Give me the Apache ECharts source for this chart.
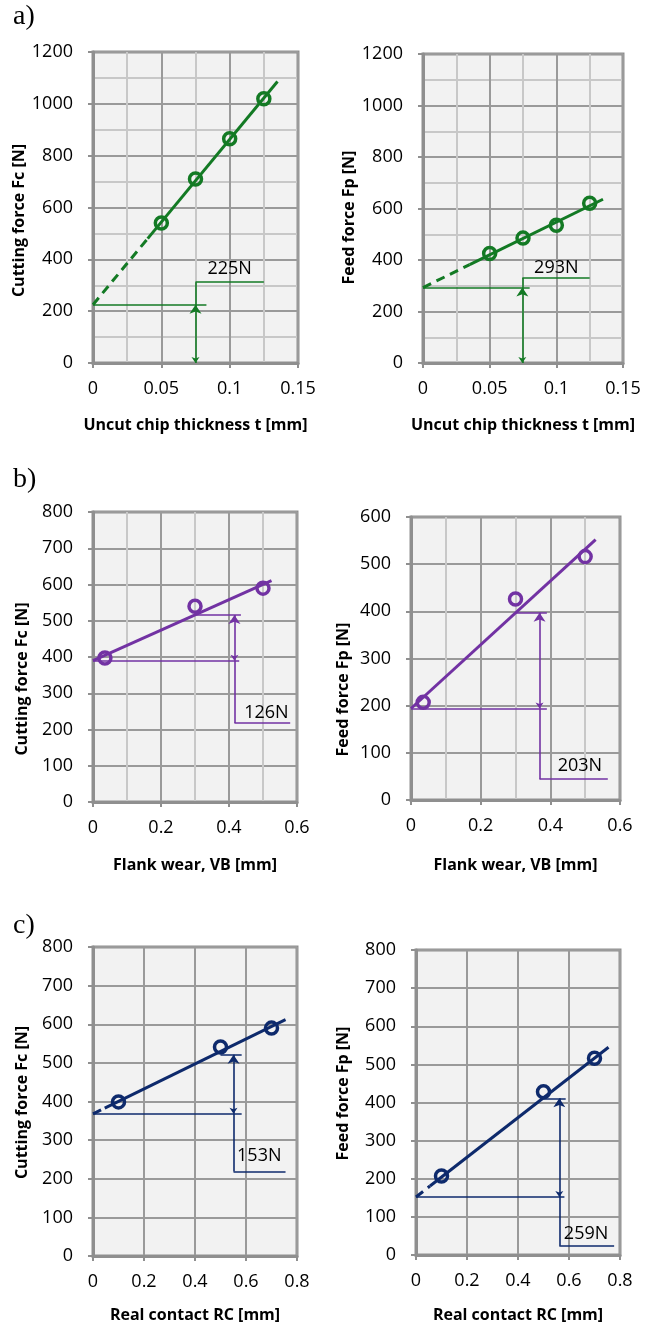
<!DOCTYPE html>
<html>
<head>
<meta charset="utf-8">
<script src="https://cdn.jsdelivr.net/npm/echarts@6/dist/echarts.min.js"></script>
<style>
  html, body { margin: 0; padding: 0; background: #ffffff; }
  #chart { width: 657px; height: 1326px; }
</style>
</head>
<body>
<div id="chart"></div>
<script>
// Measured forces
const thickness   = [0.05, 0.075, 0.1, 0.125];
const fcThickness = [540, 710, 865, 1020];
const fpThickness = [425, 485, 535, 620];
const flankWear   = [0.035, 0.3, 0.5];
const fcFlank     = [397, 540, 590];
const fpFlank     = [207, 426, 516];
const realContact = [0.1, 0.5, 0.7];
const fcContact   = [399, 541, 590];
const fpContact   = [207, 428, 516];

// Linear trend lines: start, end of extrapolated (dashed) part, end of fitted part
const trendFcThickness = [[0, 225], [0.04, 480], [0.135, 1086]];
const trendFpThickness = [[0, 293], [0.035, 382], [0.135, 636]];
const trendFcFlank     = [[0, 390], [0, 390], [0.525, 611]];
const trendFpFlank     = [[0, 194], [0, 194], [0.53, 552]];
const trendFcContact   = [[0, 368], [0.046, 383], [0.755, 612]];
const trendFpContact   = [[0, 152], [0.055, 181], [0.755, 545]];

// Force values stated by the dimension arrows [N] and the level each arrow starts from
const forceSteps = [225, 293, 126, 203, 153, 259];
const stepBase   = [0, 0, 390, 194, 368, 152];

// Axis tick labels
const thicknessTicks = [0, 0.05, 0.1, 0.15];
const wearTicks      = [0, 0.2, 0.4, 0.6];
const contactTicks   = [0, 0.2, 0.4, 0.6, 0.8];
const force1200Ticks = [0, 200, 400, 600, 800, 1000, 1200];
const force800Ticks  = [0, 100, 200, 300, 400, 500, 600, 700, 800];
const force600Ticks  = [0, 100, 200, 300, 400, 500, 600];

const GREEN  = '#137a24';
const PURPLE = '#7232a3';
const NAVY   = '#0e2a6c';
const FRAME  = '#8f8f8f';
const FONT   = '"Open Sans", "DejaVu Sans", sans-serif';

// Layout and dimension-line placement for each panel
const panels = [
  { grid: { left: 93, top: 52, width: 205, height: 311 },
    xTicks: thicknessTicks, yTicks: force1200Ticks, xMinor: 2, yMinor: 2,
    x: thickness, y: fcThickness, trend: trendFcThickness, color: GREEN,
    xName: 'Uncut chip thickness t [mm]', yName: 'Cutting force Fc [N]',
    xGap: 54, yGap: 60, yShift: 13,
    arrowX: 0.075, lowerEnd: 0, upperStart: 0, upperEnd: 0.083,
    leaderY: 312, leaderEnd: 0.125, labelAt: [0.1, 363] },
  { grid: { left: 423, top: 54, width: 200, height: 309 },
    xTicks: thicknessTicks, yTicks: force1200Ticks, xMinor: 2, yMinor: 2,
    x: thickness, y: fpThickness, trend: trendFpThickness, color: GREEN,
    xName: 'Uncut chip thickness t [mm]', yName: 'Feed force Fp [N]',
    xGap: 54, yGap: 65, yShift: 9,
    arrowX: 0.0745, lowerEnd: 0, upperStart: 0, upperEnd: 0.08,
    leaderY: 330, leaderEnd: 0.125, labelAt: [0.1, 369] },
  { grid: { left: 93, top: 512, width: 204, height: 290 },
    xTicks: wearTicks, yTicks: force800Ticks, xMinor: 2, yMinor: 0,
    x: flankWear, y: fcFlank, trend: trendFcFlank, color: PURPLE,
    xName: 'Flank wear, VB [mm]', yName: 'Cutting force Fc [N]',
    xGap: 55, yGap: 63, yShift: 22,
    arrowX: 0.416, lowerEnd: 0.43, upperStart: 0.3, upperEnd: 0.435,
    leaderY: 218, leaderEnd: 0.58, labelAt: [0.51, 246] },
  { grid: { left: 411, top: 517, width: 209, height: 283 },
    xTicks: wearTicks, yTicks: force600Ticks, xMinor: 2, yMinor: 0,
    x: flankWear, y: fpFlank, trend: trendFpFlank, color: PURPLE,
    xName: 'Flank wear, VB [mm]', yName: 'Feed force Fp [N]',
    xGap: 57, yGap: 60, yShift: 31,
    arrowX: 0.369, lowerEnd: 0.39, upperStart: 0.3, upperEnd: 0.39,
    leaderY: 44, leaderEnd: 0.565, labelAt: [0.485, 72] },
  { grid: { left: 93, top: 947, width: 204, height: 309 },
    xTicks: contactTicks, yTicks: force800Ticks, xMinor: 0, yMinor: 0,
    x: realContact, y: fcContact, trend: trendFcContact, color: NAVY,
    xName: 'Real contact RC [mm]', yName: 'Cutting force Fc [N]',
    xGap: 51, yGap: 63, yShift: 1,
    arrowX: 0.551, lowerEnd: 0.583, upperStart: 0.5, upperEnd: 0.583,
    leaderY: 219, leaderEnd: 0.755, labelAt: [0.652, 258] },
  { grid: { left: 416, top: 950, width: 204, height: 305 },
    xTicks: contactTicks, yTicks: force800Ticks, xMinor: 0, yMinor: 0,
    x: realContact, y: fpContact, trend: trendFpContact, color: NAVY,
    xName: 'Real contact RC [mm]', yName: 'Feed force Fp [N]',
    xGap: 52, yGap: 65, yShift: -9,
    arrowX: 0.562, lowerEnd: 0.582, upperStart: 0.5, upperEnd: 0.587,
    leaderY: 24, leaderEnd: 0.777, labelAt: [0.667, 55] }
];

function axisCommon(ticks, minor) {
  return {
    min: ticks[0],
    max: ticks[ticks.length - 1],
    interval: ticks[1] - ticks[0],
    axisLine: { show: true, onZero: false, lineStyle: { color: FRAME, width: 3 } },
    axisTick: { show: true, inside: false, length: 5, lineStyle: { color: FRAME, width: 2 } },
    axisLabel: {
      color: '#000', fontSize: 18, fontFamily: FONT,
      formatter: (v) => String(+v.toFixed(4))
    },
    splitLine: { show: true, lineStyle: { color: '#9a9a9a', width: 2 } },
    minorTick: { show: false, splitNumber: minor || 1 },
    minorSplitLine: { show: !!minor, lineStyle: { color: '#c8c8c8', width: 2 } },
    nameLocation: 'middle'
  };
}

const grids = [], xAxes = [], yAxes = [], series = [];

panels.forEach((p, i) => {
  grids.push(Object.assign({
    show: true, backgroundColor: '#f2f2f2', borderColor: FRAME, borderWidth: 3,
    containLabel: false
  }, p.grid));

  const xa = axisCommon(p.xTicks, p.xMinor);
  xa.gridIndex = i;
  xa.type = 'value';
  xa.name = p.xName;
  xa.nameGap = p.xGap;
  xa.axisLabel.margin = 17;
  xa.nameTextStyle = { color: '#000', fontSize: 16, fontWeight: 'bold', fontFamily: FONT };
  xAxes.push(xa);

  const ya = axisCommon(p.yTicks, p.yMinor);
  ya.gridIndex = i;
  ya.type = 'value';
  ya.name = p.yName;
  ya.nameGap = p.yGap;
  ya.axisLabel.margin = 20;
  const shift = p.yShift * 2;
  ya.nameTextStyle = {
    color: '#000', fontSize: 16, fontWeight: 'bold', fontFamily: FONT,
    padding: shift >= 0 ? [0, shift, 0, 0] : [0, 0, 0, -shift]
  };
  yAxes.push(ya);

  const axisRef = { xAxisIndex: i, yAxisIndex: i };

  // Trend line: dashed extrapolation towards zero, solid over the measured range
  if (p.trend[0][0] !== p.trend[1][0]) {
    series.push(Object.assign({
      type: 'line', data: [p.trend[0], p.trend[1]], symbol: 'none', silent: true,
      lineStyle: { color: p.color, width: 3, type: [9, 6] }, z: 3
    }, axisRef));
  }
  series.push(Object.assign({
    type: 'line', data: [p.trend[1], p.trend[2]], symbol: 'none', silent: true,
    lineStyle: { color: p.color, width: 3 }, z: 3
  }, axisRef));

  // Dimension lines
  const base = stepBase[i];
  const top = base + forceSteps[i];
  const thin = [];
  if (base > 0) thin.push({ coords: [[0, base], [p.lowerEnd, base]] });
  thin.push({ coords: [[p.upperStart, top], [p.upperEnd, top]] });
  const leaderFrom = base > 0 ? base : top;
  thin.push({ coords: [[p.arrowX, leaderFrom], [p.arrowX, p.leaderY]] });
  thin.push({ coords: [[p.arrowX, p.leaderY], [p.leaderEnd, p.leaderY]] });
  series.push(Object.assign({
    type: 'lines', coordinateSystem: 'cartesian2d', data: thin, symbol: 'none', silent: true,
    lineStyle: { color: p.color, width: 1.6, opacity: 1 }, z: 4
  }, axisRef));
  series.push(Object.assign({
    type: 'lines', coordinateSystem: 'cartesian2d',
    data: [{ coords: [[p.arrowX, base], [p.arrowX, top]] }],
    symbol: ['arrow', 'arrow'], symbolSize: [6, 9], silent: true,
    lineStyle: { color: p.color, width: 1.6, opacity: 1 }, z: 4
  }, axisRef));

  // Measured points: open rings
  series.push(Object.assign({
    type: 'scatter', data: p.x.map((v, k) => [v, p.y[k]]),
    symbol: 'circle', symbolSize: 12, silent: true,
    itemStyle: { color: 'rgba(0,0,0,0)', borderColor: p.color, borderWidth: 3.5, opacity: 1 }, z: 5
  }, axisRef));

  // Force value label
  series.push(Object.assign({
    type: 'scatter', data: [p.labelAt], symbol: 'circle', symbolSize: 0, silent: true,
    itemStyle: { opacity: 1 },
    label: {
      show: true, position: 'inside', formatter: forceSteps[i] + 'N',
      color: '#000', fontSize: 18, fontFamily: FONT,
      textBorderWidth: 0, opacity: 1
    }, z: 6
  }, axisRef));
});

const letterStyle = { fontFamily: '"Liberation Serif", "Times New Roman", serif', fontSize: 28, fontWeight: 'normal', color: '#000' };

const chart = echarts.init(document.getElementById('chart'), null, { renderer: 'canvas' });
chart.setOption({
  animation: false,
  backgroundColor: '#ffffff',
  title: [
    { text: 'a)', left: 13, top: 3, padding: 0, textStyle: letterStyle },
    { text: 'b)', left: 13, top: 466, padding: 0, textStyle: letterStyle },
    { text: 'c)', left: 13, top: 912, padding: 0, textStyle: letterStyle }
  ],
  grid: grids,
  xAxis: xAxes,
  yAxis: yAxes,
  series: series
});
</script>
</body>
</html>
